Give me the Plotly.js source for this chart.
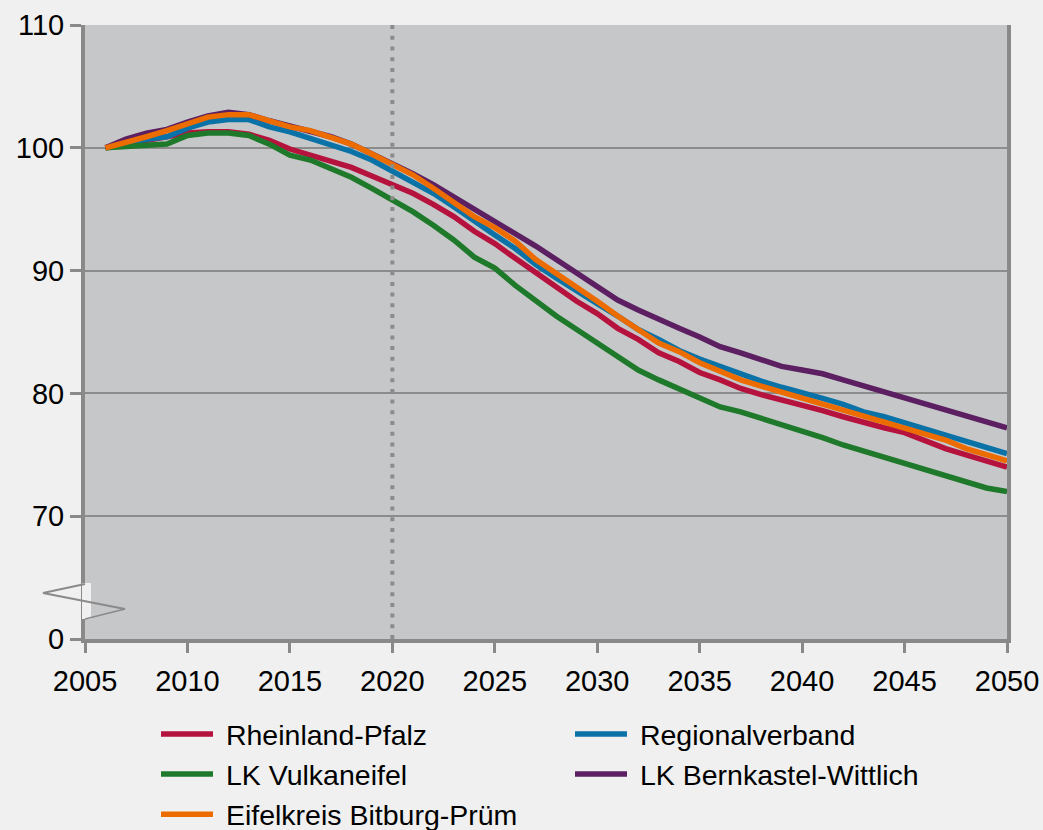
<!DOCTYPE html>
<html>
<head>
<meta charset="utf-8">
<script src="https://cdn.plot.ly/plotly-3.0.1.min.js"></script>
<style>
  html, body { margin: 0; padding: 0; background: #eff0ef; }
  #chart { width: 1043px; height: 830px; }
</style>
</head>
<body>
<div id="chart"></div>
<script>
const years = [];
for (let y = 2006; y <= 2050; y++) years.push(y);

const seriesNames = ["Rheinland-Pfalz", "Regionalverband", "LK Vulkaneifel", "LK Bernkastel-Wittlich", "Eifelkreis Bitburg-Prüm"];

const rheinlandPfalz = [100.0,100.3,100.6,100.8,101.2,101.3,101.3,101.1,100.6,99.9,99.4,99.0,98.4,97.7,97.0,96.3,95.4,94.4,93.2,92.2,91.0,89.8,88.6,87.5,86.5,85.3,84.4,83.3,82.6,81.7,81.1,80.4,79.9,79.5,79.1,78.6,78.1,77.6,77.2,76.8,76.1,75.5,75.0,74.5,74.0];
const regionalverband = [100.0,100.4,100.7,100.9,101.6,102.1,102.3,102.3,101.7,101.3,100.8,100.2,99.7,99.0,98.1,97.3,96.3,95.2,94.0,92.9,91.8,90.5,89.4,88.3,87.3,86.3,85.2,84.4,83.5,82.8,82.2,81.5,81.0,80.5,80.1,79.6,79.1,78.5,78.1,77.6,77.2,76.6,76.1,75.7,75.1];
const vulkaneifel = [100.0,100.1,100.2,100.3,101.0,101.2,101.2,101.0,100.3,99.4,99.0,98.3,97.6,96.7,95.8,94.8,93.7,92.5,91.1,90.2,88.8,87.5,86.3,85.2,84.1,82.9,81.9,81.1,80.4,79.6,78.9,78.5,78.0,77.4,76.9,76.4,75.8,75.3,74.7,74.3,73.8,73.2,72.7,72.3,72.0];
const bernkastelWittlich = [100.0,100.7,101.2,101.5,102.1,102.6,102.9,102.7,102.2,101.8,101.4,100.9,100.3,99.5,98.8,97.9,97.0,96.0,95.1,94.1,93.0,92.0,90.9,89.8,88.8,87.6,86.8,86.0,85.3,84.6,83.8,83.3,82.7,82.2,81.9,81.6,81.1,80.6,80.1,79.6,79.1,78.6,78.1,77.7,77.2];
const bitburgPruem = [100.0,100.4,100.9,101.4,102.0,102.5,102.7,102.7,102.2,101.7,101.4,100.8,100.3,99.5,98.7,97.8,96.7,95.6,94.4,93.5,92.4,90.9,89.8,88.6,87.5,86.3,85.2,84.1,83.4,82.5,81.8,81.1,80.6,80.1,79.6,79.1,78.7,78.1,77.6,77.2,76.7,76.2,75.5,75.0,74.5];

const xTickVals = [2005,2010,2015,2020,2025,2030,2035,2040,2045,2050];
const yTickVals = [60,70,80,90,100,110];
const yTickText = ["0","70","80","90","100","110"];
const markerYear = 2020;

const colors = ["#b5123e", "#0a72a6", "#1e7a2a", "#5b1f62", "#ec6c00"];
const values = [rheinlandPfalz, regionalverband, vulkaneifel, bernkastelWittlich, bitburgPruem];

const traces = seriesNames.map((name, i) => ({
  type: "scatter",
  mode: "lines",
  name: "\u00A0" + name,
  x: years,
  y: values[i],
  line: { color: colors[i], width: 5.5 },
  hoverinfo: "skip"
}));

const gridCol = "#8c8c8c";
const axisCol = "#898989";

const layout = {
  width: 1043,
  height: 830,
  paper_bgcolor: "#eff0ef",
  plot_bgcolor: "#c6c7c9",
  font: { family: "Liberation Sans, Arial, sans-serif", size: 29, color: "#000" },
  margin: { l: 85, r: 36, t: 25, b: 191, pad: 0 },
  showlegend: true,
  xaxis: {
    range: [2005, 2050],
    tickvals: xTickVals,
    ticktext: xTickVals.map(String),
    ticks: "outside",
    ticklen: 10,
    tickwidth: 3,
    tickcolor: axisCol,
    ticklabelstandoff: 3,
    showgrid: false,
    zeroline: false,
    showline: true,
    linecolor: axisCol,
    linewidth: 4,
    tickfont: { size: 29 }
  },
  yaxis: {
    range: [60, 110],
    tickvals: yTickVals,
    ticktext: yTickText,
    ticks: "outside",
    ticklen: 11,
    tickwidth: 3,
    tickcolor: axisCol,
    showgrid: true,
    gridcolor: gridCol,
    gridwidth: 2,
    zeroline: false,
    showline: true,
    mirror: true,
    linecolor: axisCol,
    linewidth: 4,
    tickfont: { size: 29 }
  },
  legend: {
    orientation: "h",
    xref: "container",
    yref: "container",
    x: 156 / 1043,
    y: 1 - 709 / 830,
    xanchor: "left",
    yanchor: "top",
    entrywidth: 347,
    entrywidthmode: "pixels",
    itemwidth: 52,
    bgcolor: "rgba(0,0,0,0)",
    font: { size: 28.5, color: "#000" },
    tracegroupgap: 0
  },
  shapes: [
    {
      type: "line", xref: "x", yref: "paper",
      x0: markerYear, x1: markerYear, y0: 0, y1: 1,
      line: { color: gridCol, width: 4, dash: "4px,6.7px" },
      layer: "above"
    },
    {
      type: "rect", xref: "paper", yref: "paper",
      xsizemode: "pixel", ysizemode: "pixel",
      xanchor: 0, yanchor: 0,
      x0: -3, x1: 6, y0: 20, y1: 56,
      fillcolor: "#eff0ef", line: { width: 0 },
      layer: "above"
    },
    {
      type: "path", xref: "paper", yref: "paper",
      xsizemode: "pixel", ysizemode: "pixel",
      xanchor: 0, yanchor: 0,
      path: "M 0 55 L -42 46 L 40 30 L 0 20",
      line: { color: "#8a8a8a", width: 1.8 },
      layer: "above"
    }
  ]
};

Plotly.newPlot("chart", traces, layout, { displayModeBar: false, staticPlot: true });
</script>
</body>
</html>
